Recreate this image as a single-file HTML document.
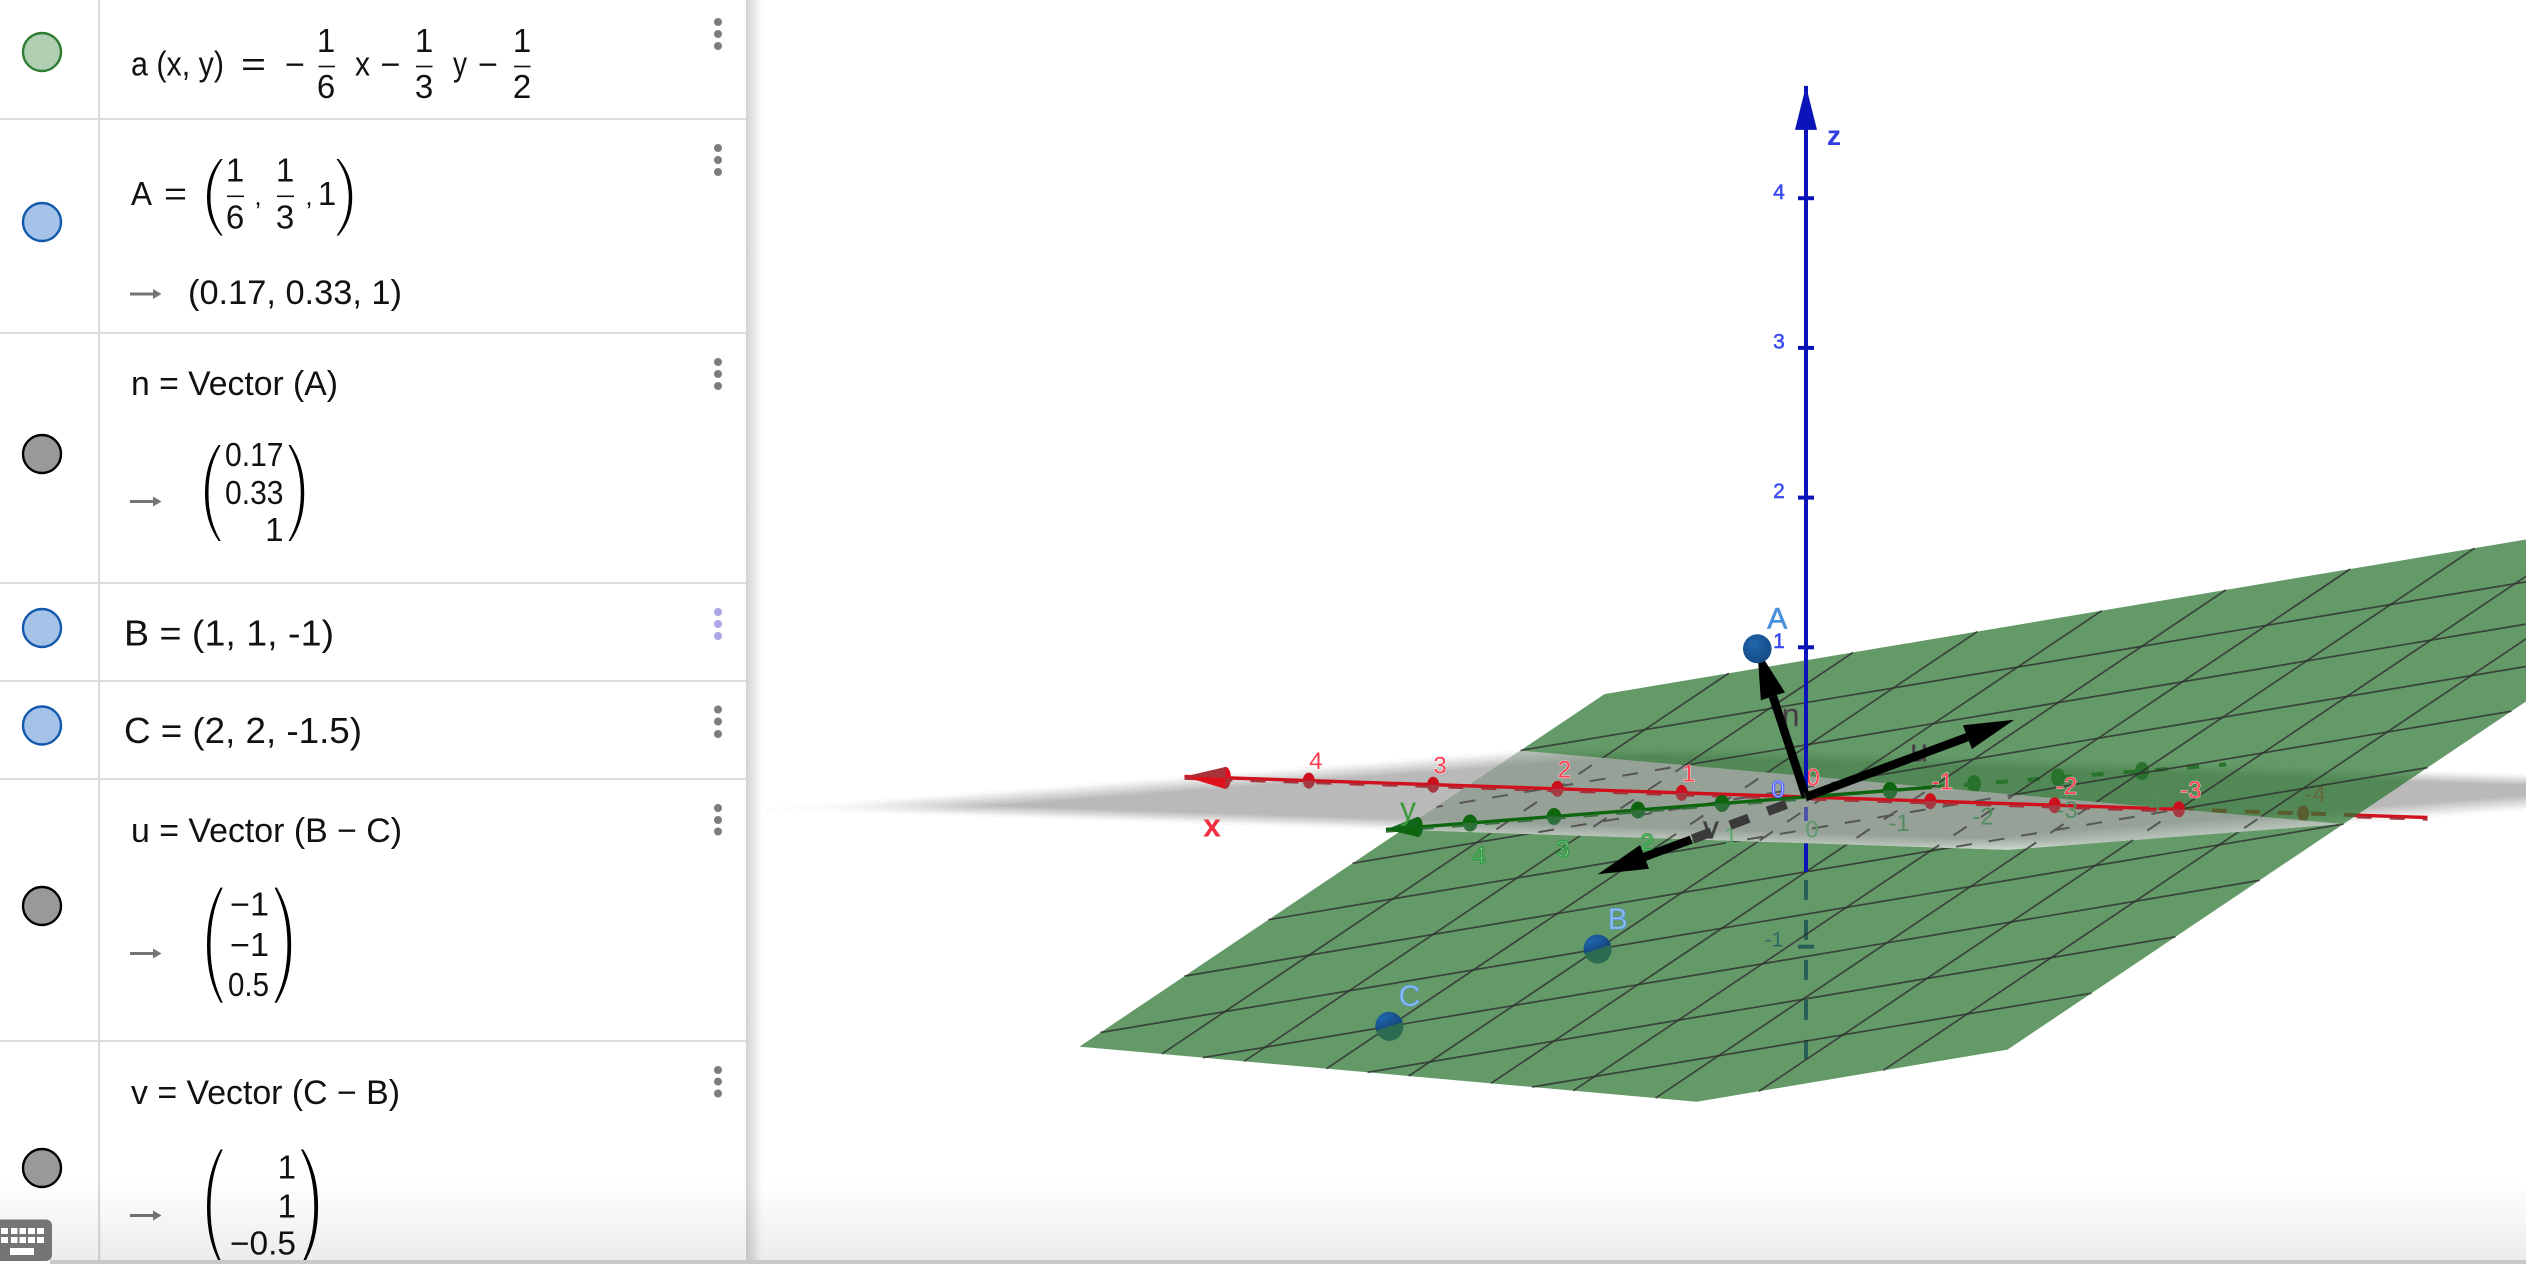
<!DOCTYPE html>
<html lang="en">
<head>
<meta charset="utf-8">
<title>GeoGebra 3D plane through three points</title>
<style>
html,body{margin:0;padding:0;background:#fff;width:2526px;height:1264px;overflow:hidden}
svg{display:block;font-family:"Liberation Sans",sans-serif}
.m{fill:#111}
.paren{fill:#000;stroke:#fff;stroke-width:4.5;font-size:100px}
</style>
</head>
<body>
<svg id="stage" width="2526" height="1264" viewBox="0 0 2526 1264">
<defs>
  <linearGradient id="fadeX" x1="0" x2="1" y1="0" y2="0">
    <stop offset="0" stop-color="#fff" stop-opacity="1"/><stop offset="0.11" stop-color="#fff" stop-opacity="0"/>
    <stop offset="0.89" stop-color="#fff" stop-opacity="0"/><stop offset="1" stop-color="#fff" stop-opacity="1"/>
  </linearGradient>
  <linearGradient id="fadeY" x1="0" x2="0" y1="0" y2="1">
    <stop offset="0" stop-color="#fff" stop-opacity="1"/><stop offset="0.12" stop-color="#fff" stop-opacity="0"/>
    <stop offset="0.88" stop-color="#fff" stop-opacity="0"/><stop offset="1" stop-color="#fff" stop-opacity="1"/>
  </linearGradient>
  <linearGradient id="fadeXSoft" x1="0" x2="1" y1="0" y2="0">
    <stop offset="0" stop-color="#fff" stop-opacity="0.45"/><stop offset="0.11" stop-color="#fff" stop-opacity="0"/>
    <stop offset="0.89" stop-color="#fff" stop-opacity="0"/><stop offset="1" stop-color="#fff" stop-opacity="0.45"/>
  </linearGradient>
  <linearGradient id="fadeYSoft" x1="0" x2="0" y1="0" y2="1">
    <stop offset="0" stop-color="#fff" stop-opacity="0.45"/><stop offset="0.12" stop-color="#fff" stop-opacity="0"/>
    <stop offset="0.88" stop-color="#fff" stop-opacity="0"/><stop offset="1" stop-color="#fff" stop-opacity="0.45"/>
  </linearGradient>
  <radialGradient id="sphere" cx="0.4" cy="0.35" r="0.75">
    <stop offset="0" stop-color="#1f66ad"/><stop offset="1" stop-color="#14477f"/>
  </radialGradient>
  <linearGradient id="panelShadow" x1="0" x2="1" y1="0" y2="0">
    <stop offset="0" stop-color="#d2d2d2"/><stop offset="1" stop-color="#ffffff"/>
  </linearGradient>
  <linearGradient id="bottomShade" x1="0" x2="0" y1="0" y2="1">
    <stop offset="0" stop-color="#000" stop-opacity="0"/><stop offset="1" stop-color="#000" stop-opacity="0.075"/>
  </linearGradient>
</defs>

<rect width="2526" height="1264" fill="#fff"/>
<g id="scene"></g>

<g>
  <rect x="0" y="0" width="746" height="1264" fill="#fff"/>
  <rect x="746" y="0" width="16" height="1264" fill="url(#panelShadow)"/>
  <g fill="#ddd">
    <rect x="98" y="0" width="2.2" height="1264"/>
    <rect x="0" y="118" width="746" height="2"/>
    <rect x="0" y="332" width="746" height="2"/>
    <rect x="0" y="582" width="746" height="2"/>
    <rect x="0" y="680" width="746" height="2"/>
    <rect x="0" y="778" width="746" height="2"/>
    <rect x="0" y="1040" width="746" height="2"/>
  </g>

  <!-- visibility marbles -->
  <g stroke-width="2.4">
    <circle cx="42" cy="52" r="19" fill="#b0cfb2" stroke="#2e7d32"/>
    <circle cx="42" cy="222" r="19" fill="#a5c3e8" stroke="#1259ad"/>
    <circle cx="42" cy="454" r="19" fill="#999" stroke="#000"/>
    <circle cx="42" cy="628" r="19" fill="#a5c3e8" stroke="#1259ad"/>
    <circle cx="42" cy="725.5" r="19" fill="#a5c3e8" stroke="#1259ad"/>
    <circle cx="42" cy="906" r="19" fill="#999" stroke="#000"/>
    <circle cx="42" cy="1168" r="19" fill="#999" stroke="#000"/>
  </g>

  <!-- overflow menus -->
  <g fill="#7d7d7d">
    <g><circle cx="718" cy="22" r="4"/><circle cx="718" cy="34" r="4"/><circle cx="718" cy="46" r="4"/></g>
    <g><circle cx="718" cy="148" r="4"/><circle cx="718" cy="160" r="4"/><circle cx="718" cy="172" r="4"/></g>
    <g><circle cx="718" cy="362" r="4"/><circle cx="718" cy="374" r="4"/><circle cx="718" cy="386" r="4"/></g>
    <g fill="#aaa6e8"><circle cx="718" cy="612" r="4"/><circle cx="718" cy="624" r="4"/><circle cx="718" cy="636" r="4"/></g>
    <g><circle cx="718" cy="709.5" r="4"/><circle cx="718" cy="721.5" r="4"/><circle cx="718" cy="734" r="4"/></g>
    <g><circle cx="718" cy="808" r="4"/><circle cx="718" cy="820" r="4"/><circle cx="718" cy="831.5" r="4"/></g>
    <g><circle cx="718" cy="1070" r="4"/><circle cx="718" cy="1081.6" r="4"/><circle cx="718" cy="1093.5" r="4"/></g>
  </g>

  <!-- row 1 -->
  <g class="m" font-size="34">
    <text x="131" y="75.5" textLength="93" lengthAdjust="spacingAndGlyphs">a (x, y)</text>
    <text x="241" y="76" textLength="25" lengthAdjust="spacingAndGlyphs">=</text>
    <text x="285" y="76" textLength="20" lengthAdjust="spacingAndGlyphs">−</text>
    <text x="326" y="52" text-anchor="middle" font-size="33">1</text><rect x="318.5" y="65.7" width="16.5" height="1.6"/><text x="326" y="98" text-anchor="middle" font-size="33">6</text>
    <text x="355" y="75.5" textLength="15" lengthAdjust="spacingAndGlyphs">x</text>
    <text x="380.5" y="76" textLength="20" lengthAdjust="spacingAndGlyphs">−</text>
    <text x="424" y="52" text-anchor="middle" font-size="33">1</text><rect x="416" y="65.7" width="16.5" height="1.6"/><text x="424" y="98" text-anchor="middle" font-size="33">3</text>
    <text x="453" y="75.5" textLength="14" lengthAdjust="spacingAndGlyphs">y</text>
    <text x="478" y="76" textLength="20" lengthAdjust="spacingAndGlyphs">−</text>
    <text x="522" y="52" text-anchor="middle" font-size="33">1</text><rect x="514" y="65.7" width="16.5" height="1.6"/><text x="522" y="98" text-anchor="middle" font-size="33">2</text>
  </g>

  <!-- row 2 -->
  <g class="m" font-size="33">
    <text x="131" y="205" textLength="21" lengthAdjust="spacingAndGlyphs">A</text>
    <text x="164" y="205" textLength="23" lengthAdjust="spacingAndGlyphs">=</text>
    <text class="paren" x="-6" y="-21" transform="translate(205,237.5) scale(.81,.867)">(</text>
    <text x="235" y="181.6" text-anchor="middle">1</text><rect x="227" y="195.5" width="17" height="1.6"/><text x="235" y="228.6" text-anchor="middle">6</text>
    <text x="258" y="205" text-anchor="middle" font-size="26">,</text>
    <text x="285" y="181.6" text-anchor="middle">1</text><rect x="277" y="195.5" width="17" height="1.6"/><text x="285" y="228.6" text-anchor="middle">3</text>
    <text x="309" y="205" text-anchor="middle" font-size="26">,</text>
    <text x="327" y="205" text-anchor="middle">1</text>
    <text class="paren" x="-6" y="-21" transform="translate(337,237.5) scale(.81,.867)">)</text>
  </g>
  <g class="m" font-size="34">
    <text x="188" y="304" textLength="214" lengthAdjust="spacingAndGlyphs">(0.17, 0.33, 1)</text>
  </g>
  <path d="M130 292.5H153V289L161.5 294L153 299V295.5H130Z" fill="#757575"/>

  <!-- row 3 -->
  <g class="m" font-size="34">
    <text x="131" y="395" textLength="207" lengthAdjust="spacingAndGlyphs">n = Vector (A)</text>
  </g>
  <path d="M130 500H153V496.5L161.5 501.5L153 506.5V503H130Z" fill="#757575"/>
  <g class="m" font-size="33">
    <text class="paren" x="-6" y="-21" transform="translate(203,543.7) scale(.81,1.086)">(</text>
    <text x="225" y="466" textLength="58.5" lengthAdjust="spacingAndGlyphs">0.17</text>
    <text x="225" y="504" textLength="58.5" lengthAdjust="spacingAndGlyphs">0.33</text>
    <text x="283.5" y="541" text-anchor="end">1</text>
    <text class="paren" x="-6" y="-21" transform="translate(289,543.7) scale(.81,1.086)">)</text>
  </g>

  <!-- rows 4, 5 -->
  <g class="m" font-size="36">
    <text x="124" y="645.5" textLength="210" lengthAdjust="spacingAndGlyphs">B = (1, 1, -1)</text>
    <text x="124" y="743" textLength="238" lengthAdjust="spacingAndGlyphs">C = (2, 2, -1.5)</text>
  </g>

  <!-- row 6 -->
  <g class="m" font-size="34">
    <text x="131" y="841.8" textLength="271" lengthAdjust="spacingAndGlyphs">u = Vector (B − C)</text>
  </g>
  <path d="M130 952H153V948.5L161.5 953.5L153 958.5V955H130Z" fill="#757575"/>
  <g class="m" font-size="33">
    <text class="paren" x="-6" y="-21" transform="translate(205,1006) scale(.81,1.298)">(</text>
    <text x="230" y="915.7" textLength="39" lengthAdjust="spacingAndGlyphs">−1</text>
    <text x="230" y="956" textLength="39" lengthAdjust="spacingAndGlyphs">−1</text>
    <text x="228" y="996" textLength="41" lengthAdjust="spacingAndGlyphs">0.5</text>
    <text class="paren" x="-6" y="-21" transform="translate(275,1006) scale(.857,1.298)">)</text>
  </g>

  <!-- row 7 -->
  <g class="m" font-size="34">
    <text x="131" y="1103.8" textLength="269" lengthAdjust="spacingAndGlyphs">v = Vector (C − B)</text>
  </g>
  <path d="M130 1214H153V1210.5L161.5 1215.5L153 1220.5V1217H130Z" fill="#757575"/>
  <g class="m" font-size="33">
    <text class="paren" x="-6" y="-21" transform="translate(205,1268) scale(.81,1.3)">(</text>
    <text x="296" y="1178.5" text-anchor="end">1</text>
    <text x="296" y="1217.5" text-anchor="end">1</text>
    <text x="230" y="1254.5" textLength="66" lengthAdjust="spacingAndGlyphs">−0.5</text>
    <text class="paren" x="-6" y="-21" transform="translate(301.5,1268) scale(.88,1.3)">)</text>
  </g>
</g>

<rect x="0" y="1180" width="2526" height="80" fill="url(#bottomShade)"/>
<rect x="50" y="1260" width="2476" height="4" fill="#c9c9c9"/>

<g>
  <path d="M0 1219.5H46a6 6 0 0 1 6 6V1255a6 6 0 0 1 -6 6H0Z" fill="#757575"/>
  <g fill="#fff">
    <rect x="1" y="1228" width="7" height="6"/><rect x="11" y="1228" width="6.5" height="6"/><rect x="19.5" y="1228" width="6.5" height="6"/><rect x="28" y="1228" width="7" height="6"/><rect x="37" y="1228" width="7" height="6"/>
    <rect x="1" y="1237" width="7" height="6"/><rect x="11" y="1237" width="6.5" height="6"/><rect x="19.5" y="1237" width="6.5" height="6"/><rect x="28" y="1237" width="7" height="6"/><rect x="37" y="1237" width="7" height="6"/>
    <rect x="10" y="1248" width="24" height="7"/>
  </g>
</g>
</svg>

<script>
// ---- chart data ----
const xTickValues = [4, 3, 2, 1, -1, -2, -3, -4];
const xTickLabels = ['4', '3', '2', '1', '-1', '-2', '-3', '-4'];
const yTickValues = [4, 3, 2, 1, -1, -2, -3, -4];
const yTickLabels = ['4', '3', '2', '1', '-1', '-2', '-3', '-4'];
const zTickValues = [4, 3, 2, 1, -1];
const zTickLabels = ['4', '3', '2', '1', '-1'];
const xAxisRange = [-5, 5];
const yAxisRange = [-5, 5];
const zAxisRange = [-1.75, 4.75];
const planeCoefficients = [-1 / 6, -1 / 3, -1 / 2];
const planeExtent = [-5, 5];
const planeZMin = [-1.75];
const gridValues = [-4, -3, -2, -1, 0, 1, 2, 3, 4];
const pointNames = ['A', 'B', 'C'];
const pointXs = [1 / 6, 1, 2];
const pointYs = [1 / 3, 1, 2];
const pointZs = [1, -1, -1.5];
const vectorNames = ['n', 'u', 'v'];
const vectorXs = [1 / 6, -1, 1];
const vectorYs = [1 / 3, -1, 1];
const vectorZs = [1, 0.5, -0.5];

// ---- orthographic axis functions ----
const ORIGIN = [1806, 797];
const EX = [-124.3, -4.1];
const EY = [-84, 6.5];
const EZ = [0, -149.7];
function sx(x, y, z) { return ORIGIN[0] + EX[0] * x + EY[0] * y + EZ[0] * z; }
function sy(x, y, z) { return ORIGIN[1] + EX[1] * x + EY[1] * y + EZ[1] * z; }
function project(x, y, z) { return [sx(x, y, z), sy(x, y, z)]; }
function planeZ(x, y) { return planeCoefficients[0] * x + planeCoefficients[1] * y + planeCoefficients[2]; }
function planePt(p) { return project(p[0], p[1], planeZ(p[0], p[1])); }

// ---- svg helpers ----
const NS = 'http://www.w3.org/2000/svg';
const scene = document.getElementById('scene');
const defs = document.querySelector('defs');
function mk(tag, attrs, name, parent) {
  const el = document.createElementNS(NS, tag);
  for (const k in attrs) el.setAttribute(k, attrs[k]);
  
  
  (parent || scene).appendChild(el);
  return el;
}
function line(a, b, color, w, name, extra) {
  return mk('line', Object.assign({ x1: a[0], y1: a[1], x2: b[0], y2: b[1], stroke: color, 'stroke-width': w }, extra || {}), name);
}
function poly(pts, fill, name, extra, parent) {
  return mk('polygon', Object.assign({ points: pts.map(p => p[0].toFixed(2) + ',' + p[1].toFixed(2)).join(' '), fill: fill }, extra || {}), name, parent);
}
function label(t, x, y, size, color, name, opts) {
  opts = opts || {};
  const attrs = { x: x, y: y + size * 0.36, 'font-size': size, fill: color, 'text-anchor': 'middle' };
  if (opts.bold) attrs['font-weight'] = 'bold';
  if (opts.halo) { attrs.stroke = '#fff'; attrs['stroke-width'] = opts.halo; attrs['stroke-opacity'] = 0.75; attrs['paint-order'] = 'stroke'; }
  if (opts.outline) { attrs.stroke = opts.outline; attrs['stroke-width'] = opts.outlineWidth || 1.1; }
  const el = mk('text', attrs, name);
  el.textContent = t;
  return el;
}
function halfEllipse(c, rx, ry, color, name, top, rot) {
  const sweep = top ? 1 : 0;
  return mk('path', {
    d: 'M' + (c[0] - rx) + ' ' + c[1] + 'A' + rx + ' ' + ry + ' 0 0 ' + sweep + ' ' + (c[0] + rx) + ' ' + c[1] + 'Z',
    fill: color,
    transform: rot ? 'rotate(' + rot + ' ' + c[0] + ' ' + c[1] + ')' : ''
  }, name);
}
function clipHalf(pts, f) {
  const out = [];
  for (let i = 0; i < pts.length; i++) {
    const P = pts[i], Q = pts[(i + 1) % pts.length], a = f(P), b = f(Q);
    if (a >= 0) out.push(P);
    if (a * b < 0) { const t = a / (a - b); out.push([P[0] + (Q[0] - P[0]) * t, P[1] + (Q[1] - P[1]) * t]); }
  }
  return out;
}
function segCross(a, b, c, d) {
  const rx = b[0] - a[0], ry = b[1] - a[1], qx = d[0] - c[0], qy = d[1] - c[1];
  return ((c[0] - a[0]) * qy - (c[1] - a[1]) * qx) / (rx * qy - ry * qx);
}
function mix(a, b, t) { return [a[0] + (b[0] - a[0]) * t, a[1] + (b[1] - a[1]) * t]; }

// ---- geometry derived from the data ----
const lo = planeExtent[0], hi = planeExtent[1], zMin = planeZMin[0];
const square = [[hi, lo], [hi, hi], [lo, hi], [lo, lo]];
const planPoly = clipHalf(square, p => planeZ(p[0], p[1]) - zMin);
const greenScreen = planPoly.map(planePt);
const grayScreen = square.map(p => project(p[0], p[1], 0));
let region = clipHalf(planPoly, p => -planeZ(p[0], p[1])).map(planePt);
let area = 0;
grayScreen.forEach((p, i) => { const q = grayScreen[(i + 1) % 4]; area += p[0] * q[1] - q[0] * p[1]; });
grayScreen.forEach((p, i) => {
  const q = grayScreen[(i + 1) % 4], s = area > 0 ? 1 : -1;
  region = clipHalf(region, r => s * ((q[0] - p[0]) * (r[1] - p[1]) - (q[1] - p[1]) * (r[0] - p[0])));
});
const regionD = 'M' + region.map(p => p[0].toFixed(2) + ' ' + p[1].toFixed(2)).join('L') + 'Z';
const clipIn = mk('clipPath', { id: 'regionIn' }, 'under-xoy-clip', defs);
mk('path', { d: regionD }, 'under-xoy-clip-shape', clipIn);
const clipOut = mk('clipPath', { id: 'regionOut' }, 'above-xoy-clip', defs);
mk('path', { d: 'M0 0H2526V1264H0Z' + regionD, 'clip-rule': 'evenodd' }, 'above-xoy-clip-shape', clipOut);

function grayPlane(parent, name, fx, fy) {
  const g = mk('g', { transform: 'matrix(' + [EX[0], EX[1], EY[0], EY[1], ORIGIN[0], ORIGIN[1]].join(' ') + ')', opacity: 0.8 }, name, parent);
  const r = { x: lo, y: lo, width: hi - lo, height: hi - lo };
  mk('rect', Object.assign({ fill: '#a8a8a8' }, r), name + '-body', g);
  mk('rect', Object.assign({ fill: 'url(#' + fx + ')' }, r), name + '-fade-x', g);
  mk('rect', Object.assign({ fill: 'url(#' + fy + ')' }, r), name + '-fade-y', g);
}
function arrowHead(tip, from, len, half, up, down, name, rounded) {
  const d = Math.hypot(tip[0] - from[0], tip[1] - from[1]);
  const ux = (from[0] - tip[0]) / d, uy = (from[1] - tip[1]) / d;
  const base = [tip[0] + ux * len, tip[1] + uy * len];
  const a = [base[0] - uy * half, base[1] + ux * half], b = [base[0] + uy * half, base[1] - ux * half];
  if (rounded) {
    halfEllipse(base, half * 0.5, half, down, name + '-base-lower', false);
    halfEllipse(base, half * 0.5, half, up, name + '-base-upper', true);
  }
  poly([tip, base, a], up, name + '-part-1');
  poly([tip, base, b], down, name + '-part-2');
  return base;
}
function tickBall(c, rx, ry, top, bottom, name) {
  halfEllipse(c, rx, ry, bottom, name + '-lower', false);
  halfEllipse(c, rx, ry, top, name + '-upper', true);
}

// ---- layer 1: xOy plane ----
grayPlane(scene, 'xoy-plane', 'fadeX', 'fadeY');

// ---- layer 2: everything hidden below plane a ----
const X_RED = '#d0101c', X_DIM = '#a8323a', Y_GREEN = '#0d650d', Y_DIM = '#2f6f3a', Z_BLUE = '#0a14b8';
const x0Cross = -planeCoefficients[2] / planeCoefficients[0];
const y0Cross = -planeCoefficients[2] / planeCoefficients[1];
const zCross = planeCoefficients[2];
const xEndPt = project(xAxisRange[0], 0, 0);
const edgeA = planePt([lo, hi]), edgeB = planePt([lo, lo]);
const xStart = project(x0Cross, 0, 0);
const tExit = segCross(xStart, xEndPt, edgeA, edgeB);
const xExit = mix(xStart, xEndPt, tExit);
line(xStart, xExit, X_RED, 4, 'x-axis-hidden-part', { 'stroke-dasharray': '15 18' });
line(xExit, xEndPt, X_RED, 3.4, 'x-axis-far-end');
line([xExit[0], xExit[1] + 2], [xEndPt[0], xEndPt[1] + 2], X_DIM, 2.4, 'x-axis-far-end-shadow', { 'stroke-dasharray': '15 18' });
line(project(0, y0Cross, 0), project(0, yAxisRange[0], 0), Y_GREEN, 4, 'y-axis-hidden-part', { 'stroke-dasharray': '12 20' });
line(project(0, 0, zCross), project(0, 0, zAxisRange[0]), Z_BLUE, 4, 'z-axis-hidden-part', { 'stroke-dasharray': '20 20', 'stroke-dashoffset': '-8' });
xTickValues.forEach((v, i) => {
  if (v < x0Cross) {
    const c = project(v, 0, 0);
    mk('ellipse', { cx: c[0], cy: c[1], rx: 6, ry: 8, fill: X_RED }, 'x-tick-' + xTickLabels[i]);
    label(xTickLabels[i], c[0] + 12, c[1] - 20, 24, '#ff3a4a', 'x-tick-label-' + xTickLabels[i]);
  }
});
yTickValues.forEach((v, i) => {
  if (v < y0Cross) {
    const c = project(0, v, 0);
    mk('ellipse', { cx: c[0], cy: c[1], rx: 7, ry: 9, fill: Y_GREEN }, 'y-tick-' + yTickLabels[i]);
  }
});
zTickValues.forEach((v, i) => {
  if (v < zCross) {
    const c = project(0, 0, v);
    line([c[0] - 8, c[1]], [c[0] + 8, c[1]], Z_BLUE, 4, 'z-tick-' + zTickLabels[i]);
    label(zTickLabels[i], c[0] - 32, c[1] - 8, 21, '#2a3af0', 'z-tick-label-' + zTickLabels[i]);
  }
});

// ---- layer 3: plane a and its grid ----
poly(greenScreen, 'rgba(48,120,54,0.75)', 'plane-a');
const gridSolid = mk('g', { 'clip-path': 'url(#regionOut)', stroke: '#2f2f2f', 'stroke-width': 1.7, 'stroke-opacity': 0.82 }, 'plane-a-grid');
const gridLines = [];
gridValues.forEach(k => {
  const f = p => planeZ(p[0], p[1]) - zMin;
  [[[k, lo], [k, hi]], [[lo, k], [hi, k]]].forEach(seg => {
    let a = seg[0], b = seg[1];
    const fa = f(a), fb = f(b);
    if (fa < 0 && fb < 0) return;
    if (fa < 0) a = mix(a, b, fa / (fa - fb));
    if (fb < 0) b = mix(a, b, (f(a)) / (f(a) - fb));
    gridLines.push([planePt(a), planePt(b), k]);
  });
});
gridLines.forEach(s => {
  mk('line', { x1: s[0][0], y1: s[0][1], x2: s[1][0], y2: s[1][1] }, 'grid-line-' + s[2], gridSolid);
});

// ---- layer 4: xOy plane seen above plane a ----
const overlay = mk('g', { 'clip-path': 'url(#regionIn)' }, 'xoy-plane-overlay');
grayPlane(overlay, 'xoy-plane-over-a', 'fadeXSoft', 'fadeYSoft');
const gridDashed = mk('g', { 'clip-path': 'url(#regionIn)', stroke: '#565656', 'stroke-width': 2, 'stroke-dasharray': '16 17' }, 'plane-a-grid-hidden');
gridLines.forEach(s => {
  mk('line', { x1: s[0][0], y1: s[0][1], x2: s[1][0], y2: s[1][1] }, 'grid-line-hidden-' + s[2], gridDashed);
});

// ---- layer 5: visible axes ----
const o = project(0, 0, 0);
line(project(xAxisRange[1], 0, 0), xStart, X_RED, 3.4, 'x-axis');
line([sx(xAxisRange[1], 0, 0), sy(xAxisRange[1], 0, 0) + 2.2], [xStart[0], xStart[1] + 2.2], X_DIM, 2.4, 'x-axis-hidden-dashes', { 'stroke-dasharray': '15 18' });
arrowHead(project(xAxisRange[1], 0, 0), o, 41, 11, '#e00f1c', '#a8323a', 'x-axis-arrow', true);
line(project(0, yAxisRange[1], 0), project(0, y0Cross, 0), Y_GREEN, 3.4, 'y-axis');
line([sx(0, yAxisRange[1], 0), sy(0, yAxisRange[1], 0) + 2.2], [sx(0, 0, 0), o[1] + 2.2], '#39703f', 2.2, 'y-axis-hidden-dashes', { 'stroke-dasharray': '15 18' });
arrowHead(project(0, yAxisRange[1], 0), o, 32, 10, Y_GREEN, '#10661a', 'y-axis-arrow', true);

xTickValues.forEach((v, i) => {
  if (v >= x0Cross) {
    const c = project(v, 0, 0);
    tickBall(c, 6, 8, '#cc0f1c', '#a53a42', 'x-tick-' + xTickLabels[i]);
    label(xTickLabels[i], c[0] + (v < 0 ? 12 : 7), c[1] - 20, 24, '#ff3f50', 'x-tick-label-' + xTickLabels[i], { halo: 1 });
  }
});
yTickValues.forEach((v, i) => {
  const c = project(0, v, 0);
  if (v >= y0Cross) tickBall(c, 7.3, 8.5, Y_GREEN, Y_DIM, 'y-tick-' + yTickLabels[i]);
  const opts = v > 1 ? { outline: '#2f9a44', outlineWidth: 1.3 } : {};
  label(yTickLabels[i], c[0] + 9, c[1] + 32, 24, v > 1 ? '#8fd49a' : (v > 0 ? '#5aa86a' : '#548c60'), 'y-tick-label-' + yTickLabels[i], opts);
});

label('x', 1212, 825, 32, '#f03040', 'x-axis-title', { bold: true });
label('y', 1408, 808, 32, '#3a9a3a', 'y-axis-title');
label('z', 1834, 135, 28, '#2f3fe0', 'z-axis-title', { bold: true });
label('0', o[0] + 7, o[1] - 20, 24, '#ff3f50', 'x-origin-label', { halo: 1 });
label('0', o[0] + 6, o[1] + 32, 24, '#5f9a6e', 'y-origin-label');
label('0', o[0] - 28, o[1] - 8, 24, '#c8ccff', 'z-origin-label', { outline: '#4c5cff' });

const zGrayEnd = segCross(o, project(0, 0, zAxisRange[0]), project(hi, hi, 0), project(lo, hi, 0));
const zGrayPt = mix(o, project(0, 0, zAxisRange[0]), zGrayEnd);
line(o, zGrayPt, '#4f54a8', 4, 'z-axis-under-xoy', { 'stroke-dasharray': '14 26', 'stroke-dashoffset': '-10' });
line(zGrayPt, project(0, 0, zCross), Z_BLUE, 4, 'z-axis-between-planes');
line(project(0, 0, 0), project(0, 0, zAxisRange[1]), Z_BLUE, 4, 'z-axis');
arrowHead(project(0, 0, zAxisRange[1]), o, 44, 11, Z_BLUE, Z_BLUE, 'z-axis-arrow');
zTickValues.forEach((v, i) => {
  if (v >= zCross) {
    const c = project(0, 0, v);
    line([c[0] - 8, c[1]], [c[0] + 8, c[1]], Z_BLUE, 4, 'z-tick-' + zTickLabels[i]);
    label(zTickLabels[i], c[0] - 27, c[1] - 7, 21, '#3a4af0', 'z-tick-label-' + zTickLabels[i], { outline: '#3a4af0', outlineWidth: 0.5 });
  }
});

// ---- layer 6: vectors ----
vectorNames.forEach((n, i) => {
  const tip = project(vectorXs[i], vectorYs[i], vectorZs[i]);
  const mid = mix(o, tip, 0.5);
  label(n, mid[0] + 9, mid[1] - 8.5, 32, '#3a3a3a', 'vector-label-' + n, { outline: '#666', outlineWidth: 0.7 });
  const d = Math.hypot(tip[0] - o[0], tip[1] - o[1]);
  const ux = (tip[0] - o[0]) / d, uy = (tip[1] - o[1]) / d;
  const base = [tip[0] - ux * 50, tip[1] - uy * 50];
  const below = vectorZs[i] < 0;
  let start = o;
  if (below) {
    const t = segCross(o, tip, project(hi, hi, 0), project(lo, hi, 0));
    start = mix(o, tip, t);
    line(o, start, '#3a3a3a', 9.5, 'vector-' + n + '-hidden-shaft', { 'stroke-dasharray': '20 20', 'stroke-dashoffset': '19' });
  }
  line(start, base, '#000', 8.5, 'vector-' + n + '-shaft');
  poly([tip, [base[0] - uy * 12.7, base[1] + ux * 12.7], [base[0] + uy * 12.7, base[1] - ux * 12.7]], '#000', 'vector-' + n + '-head');
});

// ---- layer 7: points ----
pointNames.forEach((n, i) => {
  const x = pointXs[i], y = pointYs[i], z = pointZs[i];
  const c = project(x, y, z);
  const onPlane = Math.abs(z - planeZ(x, y)) < 1e-6;
  if (onPlane) {
    mk('ellipse', { cx: c[0], cy: c[1], rx: 14, ry: 14.5, fill: '#2a6b52' }, 'point-' + n + '-below-plane');
    halfEllipse(c, 14, 14.5, 'url(#sphere)', 'point-' + n, true, -18);
    label(n, c[0] + 20, c[1] - 31, 30, '#8fbdf0', 'point-label-' + n, { outline: '#5a9ae4', outlineWidth: 0.8 });
  } else {
    mk('ellipse', { cx: c[0], cy: c[1], rx: 14.3, ry: 14.5, fill: 'url(#sphere)' }, 'point-' + n);
    label(n, c[0] + 20, c[1] - 31, 30, '#4a8fdc', 'point-label-' + n, { outline: '#4a8fdc', outlineWidth: 0.6 });
  }
});
</script>
</body>
</html>
